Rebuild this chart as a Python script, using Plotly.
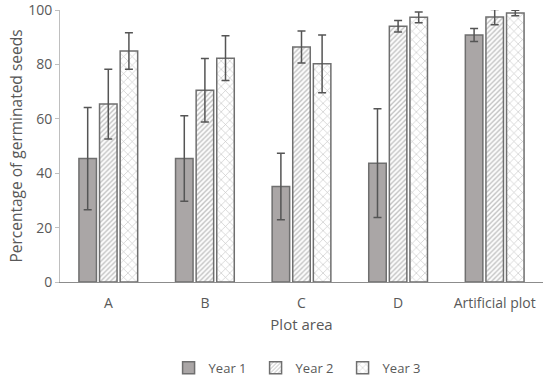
import plotly.graph_objects as go

categories = ["A", "B", "C", "D", "Artificial plot"]
year1 = [45.4, 45.4, 35.1, 43.7, 90.8]
year1_err = [18.8, 15.7, 12.2, 20.0, 2.4]
year2 = [65.4, 70.5, 86.4, 94.0, 97.4]
year2_err = [12.8, 11.7, 5.9, 2.1, 2.8]
year3 = [84.9, 82.3, 80.2, 97.3, 98.9]
year3_err = [6.7, 8.2, 10.6, 2.0, 1.0]
series_names = ["Year 1", "Year 2", "Year 3"]

FONT = "Open Sans"
GRAY = "#595959"
EDGE = "#6f6f6f"

fig = go.Figure()
specs = [
    (year1, year1_err, dict(color="#aaa6a6", line=dict(color=EDGE, width=1.5))),
    (year2, year2_err, dict(color="white", line=dict(color=EDGE, width=1.5),
                            pattern=dict(shape="/", fgcolor="#6e6e6e", bgcolor="white", size=3.5, solidity=0.35))),
    (year3, year3_err, dict(color="white", line=dict(color=EDGE, width=1.5),
                            pattern=dict(shape="x", fgcolor="#8a8a8a", bgcolor="white", size=6, solidity=0.2))),
]
for name, (vals, errs, marker) in zip(series_names, specs):
    fig.add_trace(go.Bar(
        x=categories, y=vals, name=name, marker=marker,
        error_y=dict(type="data", array=errs, visible=True, color="#555555", thickness=1.5, width=4),
        cliponaxis=False,
    ))

fig.update_layout(
    width=550, height=378,
    margin=dict(l=60, r=7, t=10, b=96, autoexpand=False),
    paper_bgcolor="white", plot_bgcolor="white",
    barmode="group", bargap=0.36, bargroupgap=0.15,
    font=dict(family=FONT, color=GRAY, size=14),
    showlegend=True,
    legend=dict(orientation="h", x=0.495, xanchor="center", yref="container", y=0.027, yanchor="middle",
                font=dict(size=13, color=GRAY), itemwidth=30, entrywidth=42, traceorder="normal"),
)
fig.update_xaxes(
    title=dict(text="Plot area", font=dict(size=15, color=GRAY), standoff=8),
    showline=True, linecolor="#8c8c8c", linewidth=1, ticks="", showgrid=False,
    tickfont=dict(size=14, color=GRAY), automargin=False, ticklabeloverflow="allow",
    ticklabelstandoff=8,
)
fig.update_yaxes(
    title=dict(text="Percentage of germinated seeds", font=dict(size=15.5, color=GRAY), standoff=1),
    range=[0, 100], dtick=20, showgrid=False, zeroline=False,
    showline=True, linecolor="#bfbfbf", linewidth=1,
    ticks="outside", ticklen=4, tickcolor="#bfbfbf",
    tickfont=dict(size=14, color=GRAY), automargin=False, ticklabeloverflow="allow",
)

fig.write_html("out.html", config={"displayModeBar": False},
               post_script="document.body.style.margin='0';document.body.style.padding='0';")
